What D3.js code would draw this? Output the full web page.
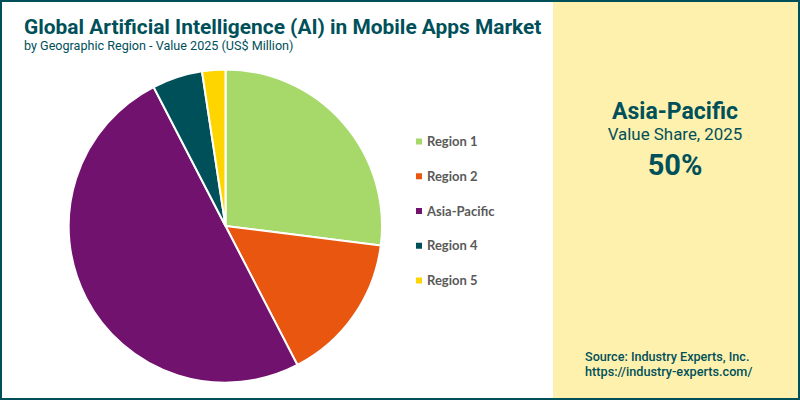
<!DOCTYPE html>
<html>
<head>
<meta charset="utf-8">
<script src="https://cdn.jsdelivr.net/npm/d3@7"></script>
<style>
  html, body { margin: 0; padding: 0; background: #fff; }
  svg { display: block; font-family: Roboto, sans-serif; }
</style>
</head>
<body>
<svg id="chart" width="800" height="400"></svg>
<script>
const categories = ["Region 1", "Region 2", "Asia-Pacific", "Region 4", "Region 5"];
const shares = [27, 15.4, 50, 5.2, 2.4];
const colors = ["#a6d96a", "#e8560f", "#72126f", "#00505a", "#ffd500"];

const DARK = "#00505a";
const svg = d3.select("#chart");

// Side panel and frame.
svg.append("rect").attr("x", 553).attr("y", 0).attr("width", 247).attr("height", 400).attr("fill", "#fef1ae");
svg.append("rect").attr("x", 1).attr("y", 1).attr("width", 798).attr("height", 398)
  .attr("fill", "none").attr("stroke", DARK).attr("stroke-width", 2);

// Titles.
svg.append("text").attr("x", 24).attr("y", 34).attr("font-size", 20.9).attr("font-weight", 700)
  .attr("fill", DARK).text("Global Artificial Intelligence (AI) in Mobile Apps Market");
svg.append("text").attr("x", 24).attr("y", 49.5).attr("font-size", 12.6)
  .attr("fill", DARK).text("by Geographic Region - Value 2025 (US$ Million)");

// Pie.
const pie = d3.pie().sort(null)(shares);
const arc = d3.arc().innerRadius(0).outerRadius(156.5);
svg.append("g").attr("transform", "translate(225.5,226)")
  .selectAll("path").data(pie).join("path")
  .attr("d", arc)
  .attr("fill", (d, i) => colors[i])
  .attr("stroke", "#fff").attr("stroke-width", 2);

// Legend.
const legendY = d3.scalePoint().domain(categories).range([141.5, 280.5]);
const legend = svg.append("g").selectAll("g").data(categories).join("g")
  .attr("transform", d => `translate(416,${legendY(d)})`);
legend.append("rect").attr("y", -3).attr("width", 6).attr("height", 6)
  .attr("fill", (d, i) => colors[i]);
legend.append("text").attr("x", 11).attr("y", 4.5)
  .attr("font-family", "Lato, sans-serif").attr("font-size", 13).attr("font-weight", 700)
  .attr("fill", "#595959").text(d => d);

// Panel callout.
const callout = svg.append("g").attr("text-anchor", "middle").attr("fill", DARK);
callout.append("text").attr("x", 675).attr("y", 118.5).attr("font-size", 23).attr("font-weight", 700).text("Asia-Pacific");
callout.append("text").attr("x", 675).attr("y", 140).attr("font-size", 16.9).text("Value Share, 2025");
callout.append("text").attr("x", 675).attr("y", 175).attr("font-size", 29).attr("font-weight", 700).text("50%");

// Source.
svg.append("text").attr("x", 585).attr("y", 361).attr("font-size", 12.6).attr("font-weight", 500)
  .attr("fill", DARK).text("Source: Industry Experts, Inc.");
svg.append("text").attr("x", 585).attr("y", 376).attr("font-size", 12.7).attr("font-weight", 500)
  .attr("fill", DARK).text("https://industry-experts.com/");
</script>
</body>
</html>
